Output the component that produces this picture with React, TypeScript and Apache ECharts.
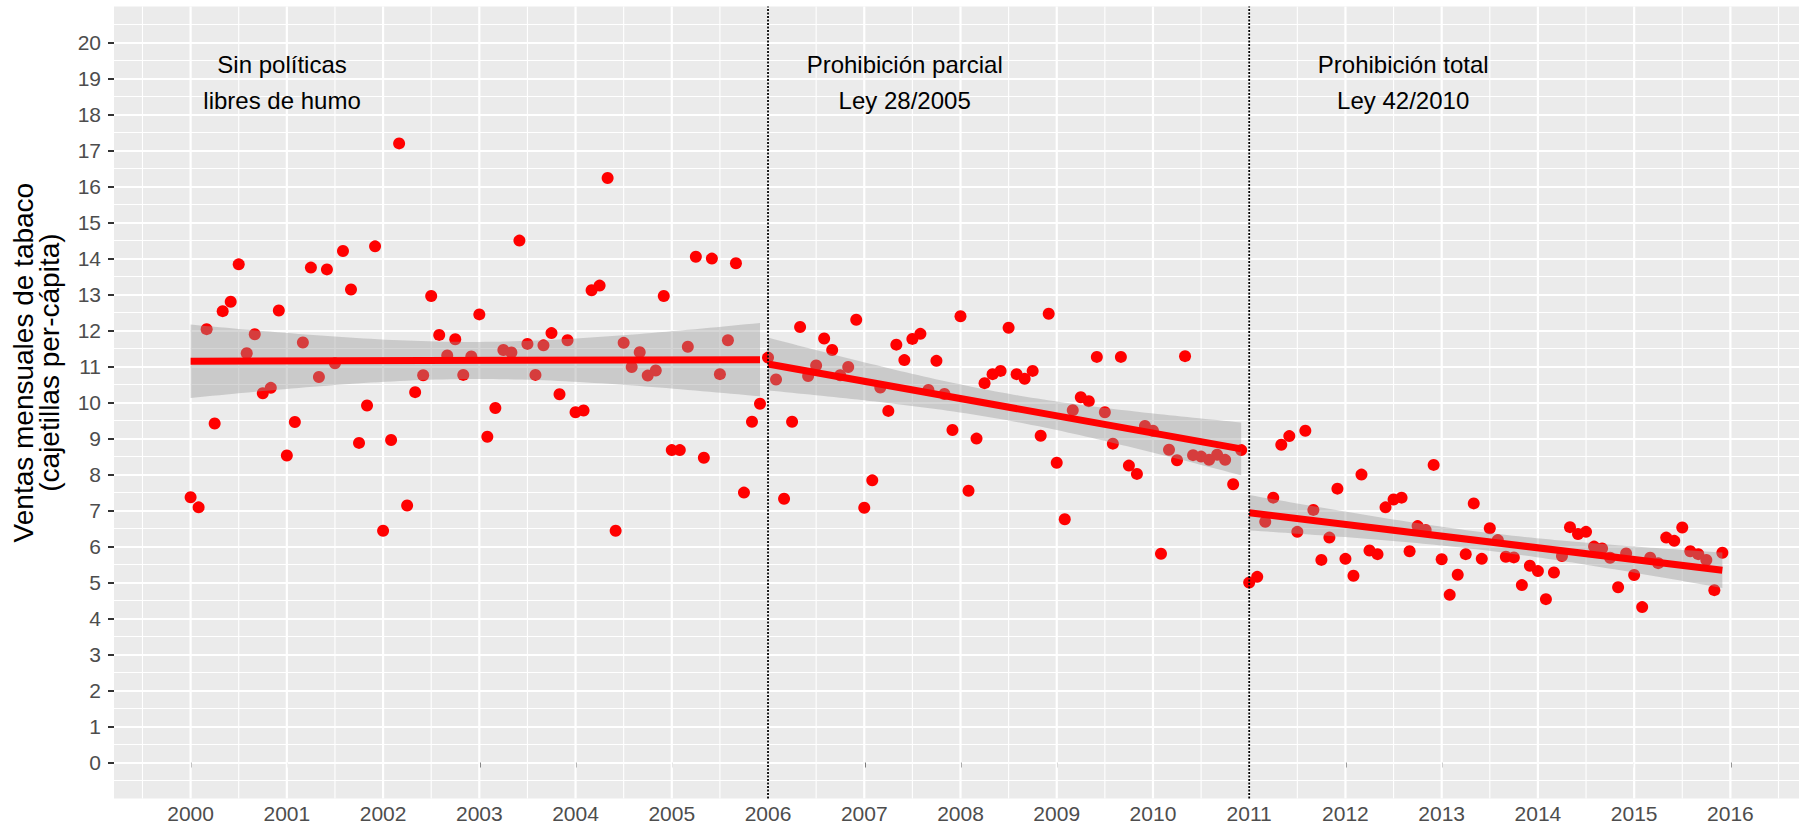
import React, { useEffect, useRef } from 'react';
import * as echarts from 'echarts';

// Monthly sales (packs per capita), Jan of start year onward
const sales2000_2005 = [
  7.37, 7.09, 12.04, 9.42, 12.54, 12.8, 13.84, 11.37, 11.9, 10.26, 10.41, 12.56,
  8.53, 9.46, 11.67, 13.75, 10.71, 13.7, 11.09, 14.21, 13.14, 8.88, 9.92, 14.34,
  6.44, 8.96, 17.2, 7.14, 10.29, 10.76, 12.96, 11.88, 11.31, 11.76, 10.77, 11.28,
  12.45, 9.05, 9.85, 11.46, 11.39, 14.5, 11.63, 10.77, 11.59, 11.93, 10.23, 11.73,
  9.73, 9.78, 13.12, 13.25, 16.24, 6.44, 11.66, 10.99, 11.4, 10.75, 10.89, 12.96,
  8.68, 8.68, 11.55, 14.05, 8.47, 14.0, 10.79, 11.73, 13.87, 7.5, 9.47, 9.97,
];
const sales2006_2010 = [
  11.25, 10.64, 7.33, 9.47, 12.1, 10.74, 11.03, 11.78, 11.46, 10.76, 10.99, 12.3,
  7.08, 7.84, 10.42, 9.77, 11.61, 11.18, 11.77, 11.91, 10.35, 11.16, 10.24, 9.24,
  12.4, 7.55, 9.0, 10.54, 10.79, 10.88, 12.08, 10.79, 10.66, 10.88, 9.08, 12.47,
  8.33, 6.76, 9.79, 10.15, 10.04, 11.27, 9.73, 8.86, 11.27, 8.25, 8.02, 9.35,
  9.22, 5.8, 8.69, 8.4, 11.29, 8.54, 8.5, 8.41, 8.55, 8.41, 7.73, 8.68,
];
const sales2011_2015 = [
  5.0, 5.16, 6.69, 7.36, 8.83, 9.07, 6.41, 9.22, 7.02, 5.63, 6.25, 7.61,
  5.66, 5.19, 8.0, 5.89, 5.79, 7.09, 7.31, 7.36, 5.87, 6.57, 6.46, 8.27,
  5.65, 4.66, 5.22, 5.79, 7.2, 5.66, 6.51, 6.18, 5.72, 5.7, 4.93, 5.47,
  5.32, 4.54, 5.28, 5.74, 6.54, 6.35, 6.41, 6.0, 5.95, 5.69, 4.87, 5.81,
  5.21, 4.32, 5.69, 5.54, 6.25, 6.16, 6.53, 5.87, 5.79, 5.63, 4.79, 5.83,
];
const segmentStartYears = [2000, 2006, 2011];

const xTickYears = [2000, 2001, 2002, 2003, 2004, 2005, 2006, 2007, 2008, 2009, 2010, 2011, 2012, 2013, 2014, 2015, 2016];
const xMinorYears = [1999.5, 2000.5, 2001.5, 2002.5, 2003.5, 2004.5, 2005.5, 2006.5, 2007.5, 2008.5, 2009.5, 2010.5, 2011.5, 2012.5, 2013.5, 2014.5, 2015.5, 2016.5];
const yTicks = [0, 1, 2, 3, 4, 5, 6, 7, 8, 9, 10, 11, 12, 13, 14, 15, 16, 17, 18, 19, 20];
const policyChangeYears = [2006, 2011];

const annotationTexts = ['Sin políticas\nlibres de humo', 'Prohibición parcial\nLey 28/2005', 'Prohibición total\nLey 42/2010'];
const annotationX = [2000.95, 2007.42, 2012.6];
const annotationY = 18.9;

const yTitle = 'Ventas mensuales de tabaco\n(cajetillas per-cápita)';

const FONT = "'Liberation Sans', Arial, Helvetica, sans-serif";

function toPoints(values: number[], startYear: number): number[][] {
  return values.map((v, i) => [startYear + i / 12, v]);
}

function tQuantile975(df: number): number {
  const z = 1.959964;
  const g1 = (z ** 3 + z) / 4;
  const g2 = (5 * z ** 5 + 16 * z ** 3 + 3 * z) / 96;
  return z + g1 / df + g2 / (df * df);
}

// ordinary least squares fit with 95% confidence band (like geom_smooth(method = "lm"))
function lmBand(pts: number[][]) {
  const n = pts.length;
  const mx = pts.reduce((s, p) => s + p[0], 0) / n;
  const my = pts.reduce((s, p) => s + p[1], 0) / n;
  let sxx = 0;
  let sxy = 0;
  pts.forEach((p) => {
    sxx += (p[0] - mx) ** 2;
    sxy += (p[0] - mx) * (p[1] - my);
  });
  const b = sxy / sxx;
  const a = my - b * mx;
  let sse = 0;
  pts.forEach((p) => {
    sse += (p[1] - (a + b * p[0])) ** 2;
  });
  const s = Math.sqrt(sse / (n - 2));
  const t = tQuantile975(n - 2);
  const x0 = pts[0][0];
  const x1 = pts[n - 1][0];
  const band: number[][] = [];
  const steps = 80;
  for (let i = 0; i < steps; i++) {
    const x = x0 + ((x1 - x0) * i) / (steps - 1);
    const fit = a + b * x;
    const se = s * Math.sqrt(1 / n + (x - mx) ** 2 / sxx);
    band.push([x, fit, fit - t * se, fit + t * se]);
  }
  return { band, line: [[x0, a + b * x0], [x1, a + b * x1]] };
}

export default function App() {
  const ref = useRef<HTMLDivElement>(null);

  useEffect(() => {
    document.body.style.margin = '0';
    if (!ref.current) return;
    const chart = echarts.init(ref.current, undefined, { renderer: 'svg' });

    const segments = [sales2000_2005, sales2006_2010, sales2011_2015].map((vals, i) =>
      toPoints(vals, segmentStartYears[i])
    );
    const allPoints = segments.flat();
    const fits = segments.map((seg) => lmBand(seg));

    const yLo = -1;
    const yHi = 21;

    const gridLineData = [
      ...xTickYears.map((x) => [x, 0, 1]),
      ...xMinorYears.map((x) => [x, 0, 0]),
    ];

    const series: any[] = [
      {
        type: 'custom',
        name: 'vgrid',
        z: 1,
        silent: true,
        data: gridLineData,
        encode: { x: 0, y: 1 },
        renderItem: (_p: any, api: any) => {
          const x = api.value(0);
          const major = api.value(2) === 1;
          const p1 = api.coord([x, yLo]);
          const p2 = api.coord([x, yHi]);
          return {
            type: 'line',
            shape: { x1: p1[0], y1: p1[1], x2: p2[0], y2: p2[1] },
            style: { stroke: '#FFFFFF', lineWidth: major ? 2.2 : 1.1 },
          };
        },
      },
      {
        type: 'scatter',
        name: 'ventas',
        z: 2,
        symbol: 'circle',
        symbolSize: 12,
        itemStyle: { color: '#FF0000', opacity: 1 },
        data: allPoints,
      },
    ];

    fits.forEach((f, i) => {
      series.push({
        type: 'custom',
        name: 'band' + i,
        z: 3,
        silent: true,
        data: [[f.band[0][0], f.band[0][1]]],
        encode: { x: 0, y: 1 },
        renderItem: (_p: any, api: any) => {
          const upper = f.band.map((p) => api.coord([p[0], p[3]]));
          const lower = f.band.map((p) => api.coord([p[0], p[2]])).reverse();
          return {
            type: 'polygon',
            shape: { points: upper.concat(lower) },
            style: { fill: 'rgba(153,153,153,0.4)' },
          };
        },
      });
      series.push({
        type: 'line',
        name: 'fit' + i,
        z: 4,
        silent: true,
        symbol: 'none',
        lineStyle: { color: '#FF0000', width: 7, cap: 'butt' },
        data: f.line,
      });
    });

    series.push({
      type: 'custom',
      name: 'vlines',
      z: 5,
      silent: true,
      data: policyChangeYears.map((x) => [x, 0]),
      encode: { x: 0, y: 1 },
      renderItem: (_p: any, api: any) => {
        const x = api.value(0);
        const p1 = api.coord([x, yLo]);
        const p2 = api.coord([x, yHi]);
        return {
          type: 'line',
          shape: { x1: p1[0], y1: p1[1], x2: p2[0], y2: p2[1] },
          style: { stroke: '#000000', lineWidth: 1.8, lineDash: [2, 1.5] },
        };
      },
    });

    series.push({
      type: 'custom',
      name: 'annotations',
      z: 6,
      silent: true,
      data: annotationX.map((x, i) => [x, annotationY, i]),
      encode: { x: 0, y: 1 },
      renderItem: (_p: any, api: any) => {
        const c = api.coord([api.value(0), api.value(1)]);
        return {
          type: 'text',
          x: c[0],
          y: c[1],
          style: {
            text: annotationTexts[api.value(2)],
            fill: '#000000',
            fontSize: 24,
            fontFamily: FONT,
            align: 'center',
            verticalAlign: 'middle',
            lineHeight: 36,
          },
        };
      },
    });

    chart.setOption({
      animation: false,
      backgroundColor: '#FFFFFF',
      grid: {
        left: 114,
        right: 7,
        top: 6.6,
        bottom: 30.4,
        show: true,
        backgroundColor: '#EBEBEB',
        borderWidth: 0,
      },
      xAxis: {
        type: 'value',
        min: 1999.204,
        max: 2016.713,
        axisLine: { show: false },
        splitLine: { show: false },
        axisTick: {
          show: true,
          customValues: xTickYears,
          length: 5,
          lineStyle: { color: '#333333', width: 2 },
        },
        axisLabel: {
          customValues: xTickYears,
          color: '#4D4D4D',
          fontSize: 21,
          fontFamily: FONT,
          margin: 4,
          formatter: (v: number) => String(Math.round(v)),
        },
      },
      yAxis: {
        type: 'value',
        min: -1,
        max: 21,
        interval: 1,
        axisLine: { show: false },
        axisTick: {
          show: true,
          customValues: yTicks,
          length: 6,
          lineStyle: { color: '#333333', width: 2 },
        },
        axisLabel: {
          customValues: yTicks,
          color: '#4D4D4D',
          fontSize: 21,
          fontFamily: FONT,
          margin: 13,
        },
        splitLine: { show: true, lineStyle: { color: '#FFFFFF', width: 2.2 } },
        minorTick: { show: false, splitNumber: 2 },
        minorSplitLine: { show: true, lineStyle: { color: '#FFFFFF', width: 1.1 } },
        name: yTitle,
        nameLocation: 'middle',
        nameGap: 52,
        nameTextStyle: {
          color: '#000000',
          fontSize: 28,
          fontFamily: FONT,
          lineHeight: 26,
          padding: [0, 0, 0, 80],
        },
      },
      series,
    });

    return () => chart.dispose();
  }, []);

  return <div ref={ref} style={{ width: '1806px', height: '829px' }} />;
}
